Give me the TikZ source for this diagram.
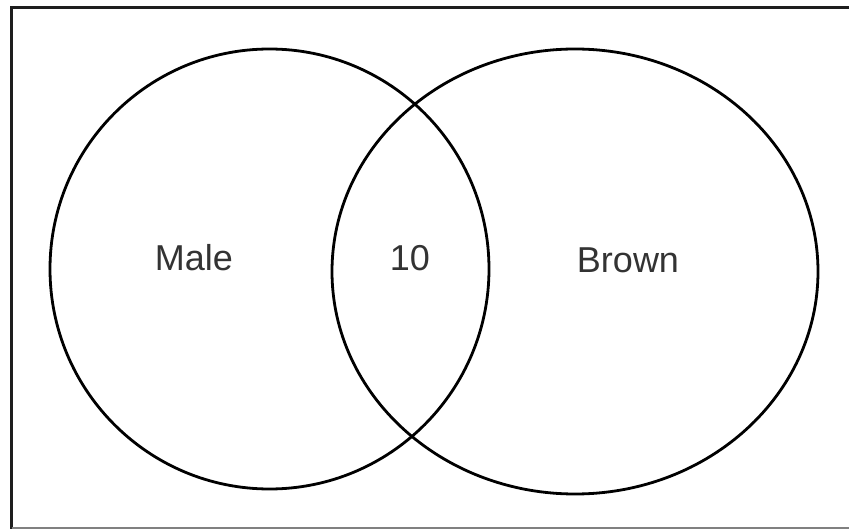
\documentclass[tikz,border=0pt]{standalone}
\usepackage{fontspec}
\setmainfont{Liberation Sans}
\definecolor{textgray}{HTML}{333333}
\definecolor{framegray}{HTML}{1E1E1E}
\begin{document}
\begin{tikzpicture}[x=1pt, y=-1pt, font=\fontsize{36}{40}\selectfont]

  % Canvas (pixel units, y downwards)
  \useasboundingbox (0, 0) rectangle (849, 529);

  % Frame (open on the right)
  \draw[framegray, line width=3.5pt] (849, 7.5) -- (11.5, 7.5) -- (11.5, 529);
  \draw[gray, line width=2pt] (11.5, 528) -- (849, 528);

  % Sets
  \draw[black, line width=2.8pt] (269.5, 269) ellipse (219.5 and 220);
  \draw[black, line width=2.8pt] (575, 271.5) ellipse (243 and 222.5);

  % Labels
  \node[textgray] (male)  at (194, 258) {Male};
  \node[textgray] (both)  at (410, 258) {10};
  \node[textgray] (brown) at (628, 260) {Brown};

\end{tikzpicture}
\end{document}
